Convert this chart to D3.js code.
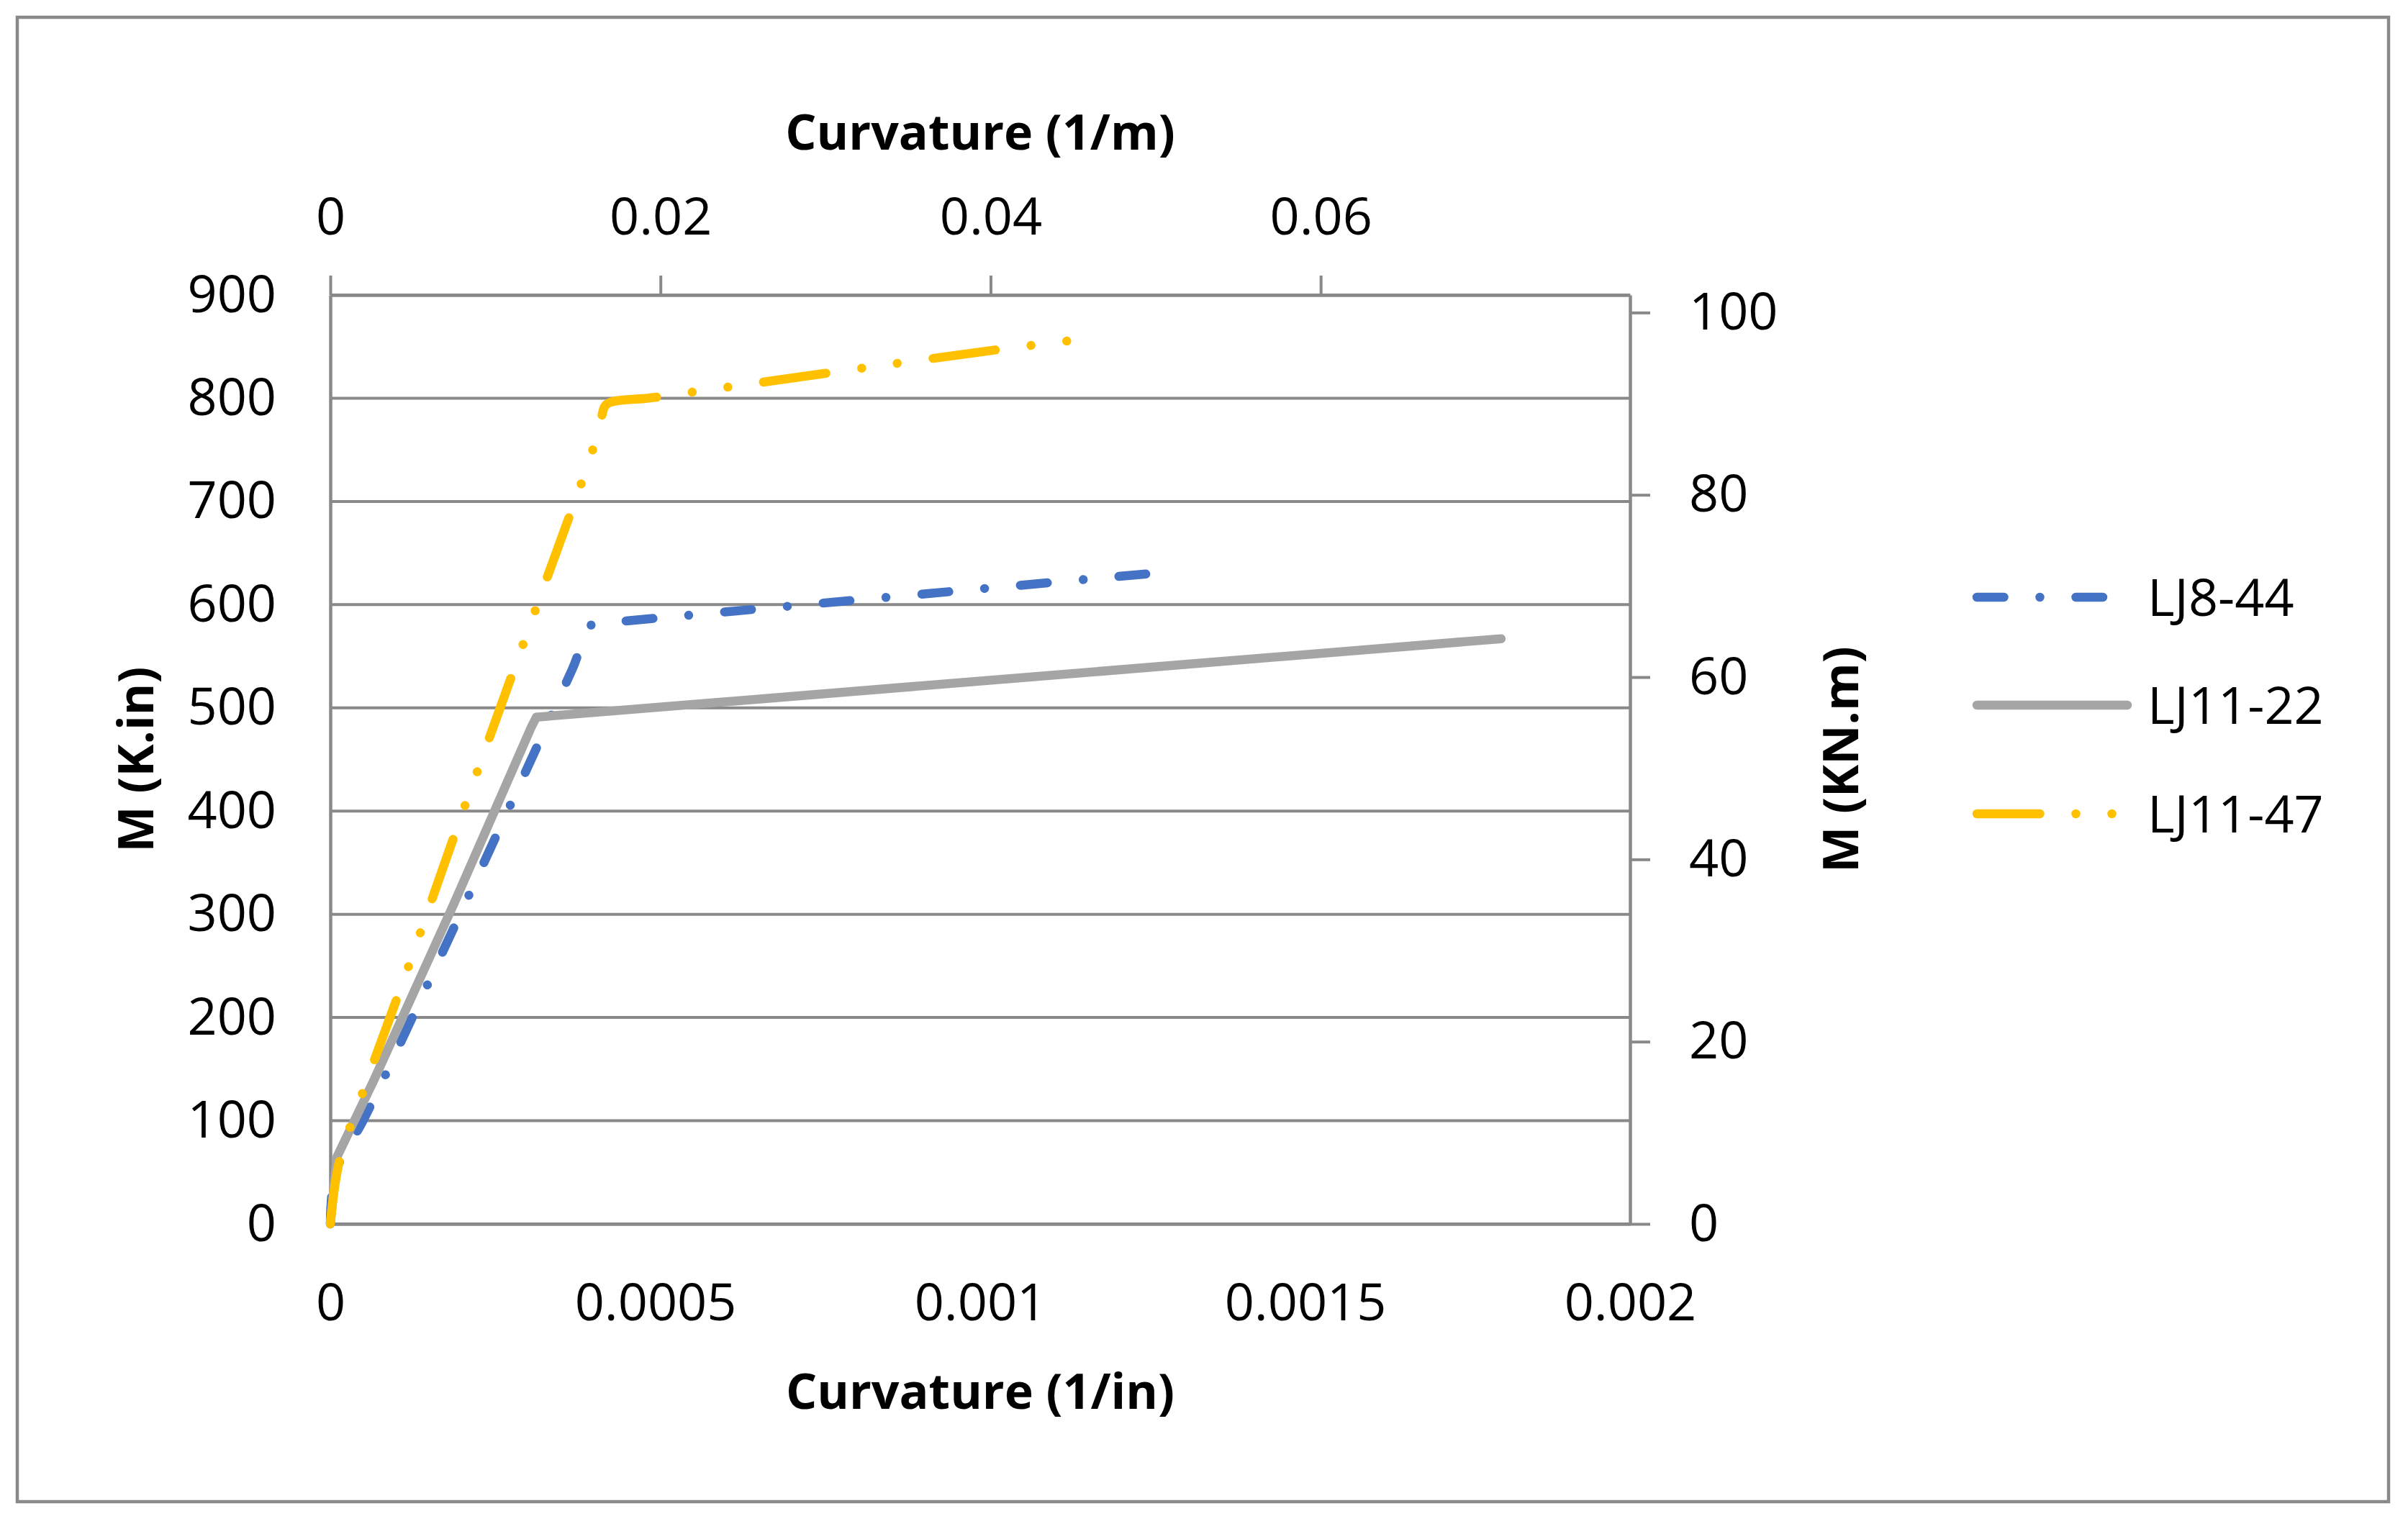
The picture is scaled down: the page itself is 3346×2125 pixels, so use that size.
<!DOCTYPE html>
<html>
<head>
<meta charset="utf-8">
<script src="https://cdn.jsdelivr.net/npm/d3@7"></script>
<style>
  html, body { margin: 0; padding: 0; background: #ffffff; }
  svg { display: block; }
  text { font-family: "Open Sans", "Noto Sans", sans-serif; fill: #000; }
</style>
</head>
<body>
<script>
// ---------------- data ----------------
const seriesNames = ["LJ8-44", "LJ11-22", "LJ11-47"];

// curvature (1/in) and moment (K.in)
const curvLJ8_44  = [0, 0.000008, 0.0000528, 0.000182, 0.000372, 0.000403, 0.000452, 0.00126];
const momLJ8_44   = [0, 50, 103, 276, 537, 581, 584, 630];

const curvLJ11_22 = [0, 0.0000103, 0.0000676, 0.00019, 0.000309, 0.000317, 0.0018017];
const momLJ11_22  = [0, 65, 140, 310, 481, 491, 567];

const curvLJ11_47 = [0, 0.000014, 0.0000491, 0.000120, 0.0001887, 0.000334, 0.0004037, 0.0004177, 0.000425, 0.0005016, 0.001026, 0.001137];
const momLJ11_47  = [0, 61, 126, 249, 372.5, 627, 750, 783, 794, 801, 847, 855.6];

const bottomTicks = [0, 0.0005, 0.001, 0.0015, 0.002];
const bottomLabels = ["0", "0.0005", "0.001", "0.0015", "0.002"];
const topTicks = [0, 0.02, 0.04, 0.06];
const topLabels = ["0", "0.02", "0.04", "0.06"];
const leftTicks = [0, 100, 200, 300, 400, 500, 600, 700, 800, 900];
const rightTicks = [0, 20, 40, 60, 80, 100];

const inPerM = 39.37;      // 1/in -> 1/m
const kinPerKNm = 8.83;    // K.in per KN.m

const colors = ["#4472C4", "#A5A5A5", "#FFC000"];
const W = 3346, H = 2125;
const LW = 12.5;
const dashes = [
  [3*LW, 4*LW, 0.001, 4*LW].join(","),
  null,
  [7*LW, 4*LW, 0.001, 4*LW, 0.001, 4*LW].join(",")
];

// ---------------- svg ----------------
const svg = d3.select("body").append("svg").attr("width", W).attr("height", H);
svg.append("rect").attr("width", W).attr("height", H).attr("fill", "#fff");
svg.append("rect").attr("x", 24).attr("y", 24).attr("width", 3295).attr("height", 2063)
  .attr("fill", "none").attr("stroke", "#898989").attr("stroke-width", 4.5);

const L = 459, R = 2265, T = 410, B = 1701;
const x = d3.scaleLinear().domain([0, 0.002]).range([L, R]);
const xTop = d3.scaleLinear().domain([0, 0.002 * inPerM]).range([L, R]);
const y = d3.scaleLinear().domain([0, 900]).range([B, T]);
const yR = d3.scaleLinear().domain([0, 900 / kinPerKNm]).range([B, T]);

const gridColor = "#898989";
const FS = 72;

// gridlines
svg.append("g").selectAll("line").data(leftTicks).join("line")
  .attr("x1", L).attr("x2", R)
  .attr("y1", d => y(d)).attr("y2", d => y(d))
  .attr("stroke", gridColor).attr("stroke-width", 4);

function styleAxis(g) {
  g.selectAll(".domain").attr("stroke", gridColor).attr("stroke-width", 4.5);
  g.selectAll(".tick line").attr("stroke", gridColor).attr("stroke-width", 4);
  g.selectAll("text").attr("font-size", FS).attr("fill", "#000")
    .attr("font-family", "'Open Sans', 'Noto Sans', sans-serif");
}

// left axis
svg.append("g").attr("transform", `translate(${L},0)`)
  .call(d3.axisLeft(y).tickValues(leftTicks).tickFormat(d3.format("d")).tickSize(0).tickPadding(75))
  .call(styleAxis);

// bottom axis
svg.append("g").attr("transform", `translate(0,${B})`)
  .call(d3.axisBottom(x).tickValues(bottomTicks).tickFormat((d, i) => bottomLabels[i]).tickSize(0).tickPadding(83))
  .call(styleAxis);

// top axis
svg.append("g").attr("transform", `translate(0,${T})`)
  .call(d3.axisTop(xTop).tickValues(topTicks).tickFormat((d, i) => topLabels[i]).tickSizeInner(27).tickSizeOuter(0).tickPadding(57))
  .call(styleAxis);

// right axis
svg.append("g").attr("transform", `translate(${R},0)`)
  .call(d3.axisRight(yR).tickValues(rightTicks).tickFormat(d3.format("d")).tickSizeInner(28).tickSizeOuter(0).tickPadding(54))
  .call(styleAxis);

// axis titles
const TFS = 68;
svg.append("text").attr("x", (L + R) / 2).attr("y", 208).attr("text-anchor", "middle")
  .attr("font-size", TFS).attr("font-weight", "bold").text("Curvature (1/m)");
svg.append("text").attr("x", (L + R) / 2).attr("y", 1958).attr("text-anchor", "middle")
  .attr("font-size", TFS).attr("font-weight", "bold").text("Curvature (1/in)");
svg.append("text").attr("transform", `translate(213,${(T + B) / 2}) rotate(-90)`).attr("text-anchor", "middle")
  .attr("font-size", TFS).attr("font-weight", "bold").text("M (K.in)");
svg.append("text").attr("transform", `translate(2582,${(T + B) / 2}) rotate(-90)`).attr("text-anchor", "middle")
  .attr("font-size", TFS).attr("font-weight", "bold").text("M (KN.m)");

// series
const seriesData = [
  curvLJ8_44.map((c, i) => [c, momLJ8_44[i]]),
  curvLJ11_22.map((c, i) => [c, momLJ11_22[i]]),
  curvLJ11_47.map((c, i) => [c, momLJ11_47[i]])
];
const curves = [d3.curveCatmullRom.alpha(0.5), d3.curveLinear, d3.curveCatmullRom.alpha(0.5)];

[0, 1, 2].forEach(i => {
  const line = d3.line().x(d => x(d[0])).y(d => y(d[1])).curve(curves[i]);
  const p = svg.append("path").datum(seriesData[i]).attr("d", line)
    .attr("fill", "none").attr("stroke", colors[i]).attr("stroke-width", LW)
    .attr("stroke-linecap", "round").attr("stroke-linejoin", "round");
  if (dashes[i]) p.attr("stroke-dasharray", dashes[i]);
});

// legend
const legY = [830, 980, 1131];
seriesNames.forEach((name, i) => {
  const l = svg.append("line").attr("x1", 2747).attr("x2", 2956)
    .attr("y1", legY[i]).attr("y2", legY[i])
    .attr("stroke", colors[i]).attr("stroke-width", LW).attr("stroke-linecap", "round");
  if (dashes[i]) l.attr("stroke-dasharray", dashes[i]);
  svg.append("text").attr("x", 2984).attr("y", legY[i] + 26).attr("font-size", FS).text(name);
});
</script>
</body>
</html>
